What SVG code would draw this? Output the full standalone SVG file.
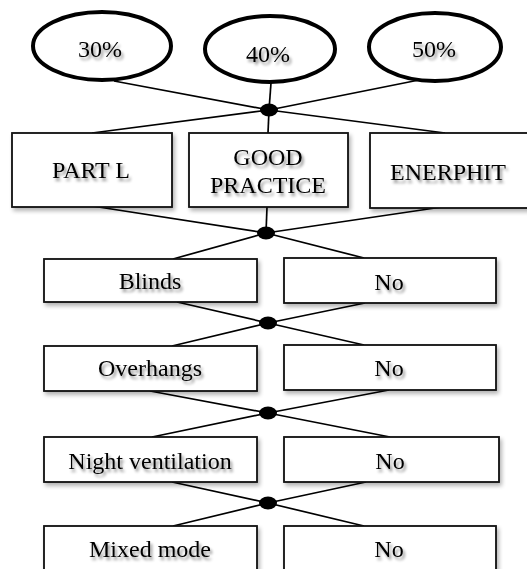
<svg xmlns="http://www.w3.org/2000/svg" width="527" height="569" viewBox="0 0 527 569">
<defs>
<filter id="ts" x="-20%" y="-30%" width="150%" height="180%">
<feGaussianBlur in="SourceAlpha" stdDeviation="1.6" result="b"/>
<feOffset in="b" dx="2" dy="3" result="o"/>
<feComponentTransfer in="o" result="s"><feFuncA type="linear" slope="0.45"/></feComponentTransfer>
<feMerge><feMergeNode in="s"/><feMergeNode in="SourceGraphic"/></feMerge>
</filter>
<filter id="bs" x="-5%" y="-10%" width="115%" height="130%">
<feGaussianBlur in="SourceAlpha" stdDeviation="2" result="b"/>
<feOffset in="b" dx="2" dy="3" result="o"/>
<feComponentTransfer in="o" result="s"><feFuncA type="linear" slope="0.3"/></feComponentTransfer>
<feMerge><feMergeNode in="s"/><feMergeNode in="SourceGraphic"/></feMerge>
</filter>
</defs>
<style>
.ell{fill:#fff;stroke:#000;stroke-width:4}
.box{fill:#fff;stroke:#111;stroke-width:1.8;filter:url(#bs)}
.t{font-family:"Liberation Serif","Times New Roman",serif;font-size:24px;fill:#000;text-anchor:middle;filter:url(#ts)}
.c line{stroke:#000;stroke-width:1.7}
.dot{fill:#000}
</style>
<rect width="527" height="569" fill="#fff"/>
<g class="c" id="connectors">
<line x1="114" y1="81" x2="269" y2="110"/>
<line x1="271" y1="83" x2="269" y2="110"/>
<line x1="419" y1="80" x2="269" y2="110"/>
<line x1="269" y1="110" x2="92" y2="133"/>
<line x1="269" y1="110" x2="268" y2="133"/>
<line x1="269" y1="110" x2="445" y2="133"/>
<ellipse class="dot" cx="269" cy="110" rx="9" ry="6.5"/>
<line x1="92" y1="206" x2="266" y2="233"/>
<line x1="267" y1="207" x2="266" y2="233"/>
<line x1="442" y1="207" x2="266" y2="233"/>
<line x1="266" y1="233" x2="173" y2="259"/>
<line x1="266" y1="233" x2="364" y2="258"/>
<ellipse class="dot" cx="266" cy="233" rx="9" ry="6.5"/>
<line x1="177" y1="302" x2="268" y2="323"/>
<line x1="365" y1="303" x2="268" y2="323"/>
<line x1="268" y1="323" x2="172" y2="346"/>
<line x1="268" y1="323" x2="364" y2="345"/>
<ellipse class="dot" cx="268" cy="323" rx="9" ry="6.5"/>
<line x1="150" y1="391" x2="268" y2="413"/>
<line x1="389" y1="390" x2="268" y2="413"/>
<line x1="268" y1="413" x2="152" y2="437"/>
<line x1="268" y1="413" x2="390" y2="437"/>
<ellipse class="dot" cx="268" cy="413" rx="9" ry="6.5"/>
<line x1="172" y1="482" x2="268" y2="503"/>
<line x1="366" y1="482" x2="268" y2="503"/>
<line x1="268" y1="503" x2="173" y2="526"/>
<line x1="268" y1="503" x2="364" y2="526"/>
<ellipse class="dot" cx="268" cy="503" rx="9" ry="6.5"/>
</g>
<g id="n30"><ellipse class="ell" cx="102" cy="46" rx="69" ry="34"/><text class="t" x="100" y="57">30%</text></g>
<g id="n40"><ellipse class="ell" cx="270" cy="49" rx="65" ry="33"/><text class="t" x="268" y="62">40%</text></g>
<g id="n50"><ellipse class="ell" cx="435" cy="47" rx="66" ry="34"/><text class="t" x="434" y="57">50%</text></g>
<g id="partl"><rect class="box" x="12" y="133" width="160" height="74"/><text class="t" x="91" y="178">PART L</text></g>
<g id="good"><rect class="box" x="189" y="133" width="159" height="74"/><text class="t" x="268" y="165">GOOD</text><text class="t" x="268" y="193">PRACTICE</text></g>
<g id="enerphit"><rect class="box" x="370" y="133" width="160" height="75"/><text class="t" x="448" y="180">ENERPHIT</text></g>
<g id="blinds"><rect class="box" x="44" y="259" width="213" height="43"/><text class="t" x="150" y="289">Blinds</text></g>
<g id="no1"><rect class="box" x="284" y="258" width="212" height="45"/><text class="t" x="389" y="290">No</text></g>
<g id="overhangs"><rect class="box" x="44" y="346" width="213" height="45"/><text class="t" x="150" y="376">Overhangs</text></g>
<g id="no2"><rect class="box" x="284" y="345" width="212" height="45"/><text class="t" x="389" y="376">No</text></g>
<g id="night"><rect class="box" x="44" y="437" width="213" height="45"/><text class="t" x="150" y="469">Night ventilation</text></g>
<g id="no3"><rect class="box" x="284" y="437" width="215" height="45"/><text class="t" x="390" y="469">No</text></g>
<g id="mixed"><rect class="box" x="44" y="526" width="213" height="60"/><text class="t" x="150" y="557">Mixed mode</text></g>
<g id="no4"><rect class="box" x="284" y="526" width="212" height="60"/><text class="t" x="389" y="557">No</text></g>
</svg>
